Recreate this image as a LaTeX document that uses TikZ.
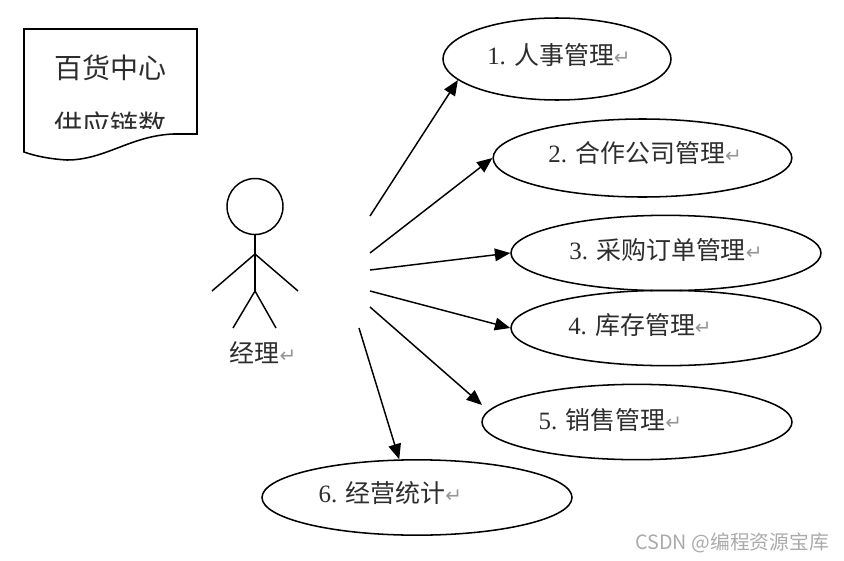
\documentclass[tikz,border=0pt]{standalone}
\usepackage{fontspec}
\usepackage{xcolor}
\usetikzlibrary{shapes.geometric,arrows.meta}
\setmainfont{Liberation Serif}
\newfontfamily\cjk{Noto Sans CJK SC}
\newfontfamily\markfont{DejaVu Sans}
\definecolor{markGray}{RGB}{150,150,150}
\definecolor{waterGray}{RGB}{170,170,170}
\definecolor{labelGray}{RGB}{45,45,45}
\newcommand{\RetMark}{{\markfont\color{markGray}\fontsize{15}{17}\selectfont ↵}}
\newcommand{\CaseText}[3]{\hspace*{#1}\smash{\raisebox{#2}{#3\RetMark}}\hspace*{\dimexpr-#1\relax}}
\tikzset{
  caseNode/.style={draw,ellipse,line width=1.15pt,inner sep=0pt,minimum width=232.5pt,minimum height=56.5pt,text=labelGray,font=\fontsize{18.7}{20}\selectfont\cjk},
  actorLine/.style={line width=1.1pt},
  useArrow/.style={line width=1.1pt,-{Triangle[length=11.5pt,width=9.5pt]}}
}
\begin{document}
\begin{tikzpicture}[x=0.75pt,y=-0.75pt]
\useasboundingbox (0,0) rectangle (844,561);
% note shape
\draw[line width=1.15pt] (24,29) -- (197,29) -- (197,134) -- (173,134) .. controls (130,136) and (105,160) .. (67,160) .. controls (50,159) and (35,156) .. (24,152) -- cycle;
\begin{scope}
\clip (24,29) rectangle (197,128);
\node[font=\fontsize{21}{24}\selectfont\cjk,text=labelGray] (titleOne) at (111,68) {百货中心};
\node[font=\fontsize{21}{24}\selectfont\cjk,text=labelGray] (titleTwo) at (111,125) {供应链数};
\end{scope}
% actor
\node[draw,circle,line width=1.1pt,minimum size=42pt,inner sep=0pt] (head) at (255,206.5) {};
\coordinate (neck) at (255,254);
\coordinate (hip) at (255,291);
\coordinate (handL) at (212,291);
\coordinate (handR) at (298,291);
\coordinate (footL) at (233,328);
\coordinate (footR) at (276,328);
\draw[actorLine] (head) -- (hip);
\draw[actorLine] (handL) -- (neck) -- (handR);
\draw[actorLine] (footL) -- (hip) -- (footR);
\node[font=\fontsize{18.7}{20}\selectfont\cjk,text=labelGray] (actorName) at (263,353) {经理\RetMark};
% use cases
\node[caseNode,minimum width=171pt,minimum height=61.5pt] (caseOne) at (557,59) {\CaseText{1.5pt}{-3.75pt}{{\rmfamily 1. }人事管理}};
\node[caseNode,minimum width=224pt,minimum height=58.5pt] (caseTwo) at (642.5,158) {\CaseText{2pt}{-3pt}{{\rmfamily 2. }合作公司管理}};
\node[caseNode] (caseThree) at (666,253) {\CaseText{0pt}{-4.5pt}{{\rmfamily 3. }采购订单管理}};
\node[caseNode] (caseFour) at (666,328) {\CaseText{-19.5pt}{-4.5pt}{{\rmfamily 4. }库存管理}};
\node[caseNode] (caseFive) at (637,422) {\CaseText{-20pt}{-5.25pt}{{\rmfamily 5. }销售管理}};
\node[caseNode] (caseSix) at (417,497.5) {\CaseText{-20pt}{-4pt}{{\rmfamily 6. }经营统计}};
% arrows
\coordinate (startOne) at (370,216);
\coordinate (startTwo) at (370,253);
\coordinate (startThree) at (370,270);
\coordinate (startFour) at (370,291);
\coordinate (startFive) at (370,307);
\coordinate (startSix) at (359,328);
\coordinate (tipFive) at (482,405);
\draw[useArrow] (startOne) -- (caseOne.192);
\draw[useArrow] (startTwo) -- (caseTwo.west);
\draw[useArrow] (startThree) -- (caseThree.west);
\draw[useArrow] (startFour) -- (caseFour.west);
\draw[useArrow] (startFive) -- (tipFive);
\draw[useArrow] (startSix) -- (caseSix.115);
% watermark
\node[font=\fontsize{14.8}{16}\selectfont\cjk,text=waterGray,anchor=east,inner sep=0pt] (waterMark) at (829,543) {CSDN @编程资源宝库};
\end{tikzpicture}
\end{document}
